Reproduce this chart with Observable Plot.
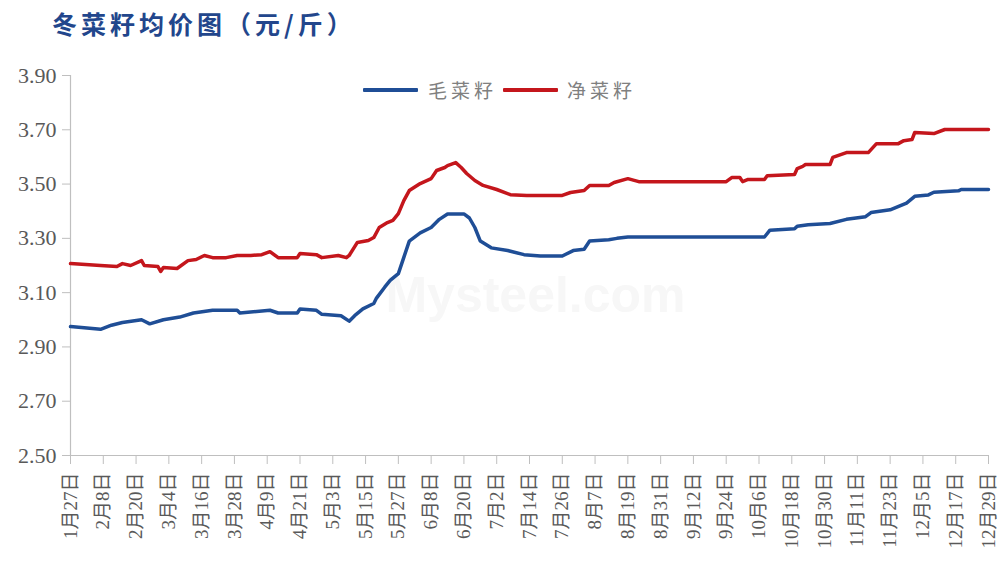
<!DOCTYPE html>
<html>
<head>
<meta charset="utf-8">
<script src="https://cdn.jsdelivr.net/npm/d3@7"></script>
<script src="https://cdn.jsdelivr.net/npm/@observablehq/plot@0.6"></script>
<style>
  html, body { margin: 0; padding: 0; background: #ffffff; }
  #wrap { position: relative; width: 1003px; height: 563px; overflow: hidden; background: #fff; }
  #title { height: 45px; position: relative; }
  #title span { position: absolute; left: 52px; top: 8px; line-height: 30px; font-family: "Noto Sans CJK SC", sans-serif; font-weight: 700; font-size: 25px; letter-spacing: 4px; color: #22468c; white-space: nowrap; }
  .leg-line { position: absolute; height: 4px; width: 55px; top: 88px; border-radius: 1px; }
  .leg-text { position: absolute; top: 78px; line-height: 24px; font-family: "Noto Sans CJK SC", sans-serif; font-size: 19px; letter-spacing: 4px; color: #808080; white-space: nowrap; }
</style>
</head>
<body>
<div id="wrap">
  <div id="title"><span>冬菜籽均价图（元/斤）</span></div>
  <div id="chart"></div>
  <div class="leg-line" style="left:363px;background:#1f4e96"></div>
  <div class="leg-text" style="left:428px">毛菜籽</div>
  <div class="leg-line" style="left:503px;background:#c4161c"></div>
  <div class="leg-text" style="left:567px">净菜籽</div>
</div>
<script>
const seriesNames = ["毛菜籽", "净菜籽"];
const seriesColors = ["#1f4e96", "#c4161c"];

const maoDates = ["2023-01-27","2023-02-07","2023-02-11","2023-02-15","2023-02-22","2023-02-25","2023-03-02","2023-03-08","2023-03-13","2023-03-20","2023-03-29","2023-03-30","2023-04-10","2023-04-13","2023-04-20","2023-04-21","2023-04-27","2023-04-29","2023-05-06","2023-05-09","2023-05-11","2023-05-14","2023-05-18","2023-05-19","2023-05-22","2023-05-24","2023-05-27","2023-05-29","2023-05-31","2023-06-04","2023-06-08","2023-06-11","2023-06-14","2023-06-20","2023-06-22","2023-06-24","2023-06-26","2023-06-30","2023-07-06","2023-07-12","2023-07-18","2023-07-26","2023-07-30","2023-08-03","2023-08-05","2023-08-12","2023-08-15","2023-08-19","2023-10-08","2023-10-10","2023-10-19","2023-10-20","2023-10-24","2023-11-01","2023-11-07","2023-11-14","2023-11-16","2023-11-23","2023-11-29","2023-12-02","2023-12-07","2023-12-09","2023-12-18","2023-12-19","2023-12-29"];
const maoValues = [2.975,2.965,2.98,2.99,3.00,2.985,3.00,3.01,3.025,3.035,3.035,3.025,3.035,3.025,3.025,3.04,3.035,3.02,3.015,2.995,3.015,3.04,3.06,3.08,3.12,3.145,3.17,3.23,3.29,3.32,3.34,3.37,3.39,3.39,3.375,3.34,3.29,3.265,3.255,3.24,3.235,3.235,3.255,3.26,3.29,3.295,3.30,3.305,3.305,3.33,3.335,3.345,3.35,3.355,3.37,3.38,3.395,3.405,3.43,3.455,3.46,3.47,3.475,3.48,3.48];

const jingDates = ["2023-01-27","2023-02-07","2023-02-13","2023-02-15","2023-02-18","2023-02-22","2023-02-23","2023-02-28","2023-03-01","2023-03-02","2023-03-07","2023-03-11","2023-03-14","2023-03-17","2023-03-20","2023-03-25","2023-03-29","2023-04-03","2023-04-07","2023-04-10","2023-04-13","2023-04-20","2023-04-21","2023-04-27","2023-04-29","2023-05-05","2023-05-08","2023-05-09","2023-05-12","2023-05-16","2023-05-18","2023-05-20","2023-05-23","2023-05-25","2023-05-27","2023-05-29","2023-05-31","2023-06-04","2023-06-08","2023-06-10","2023-06-13","2023-06-14","2023-06-17","2023-06-19","2023-06-21","2023-06-24","2023-06-27","2023-07-02","2023-07-07","2023-07-13","2023-07-26","2023-07-29","2023-08-03","2023-08-05","2023-08-12","2023-08-14","2023-08-19","2023-08-23","2023-09-24","2023-09-26","2023-09-29","2023-09-30","2023-10-02","2023-10-08","2023-10-09","2023-10-19","2023-10-20","2023-10-22","2023-10-23","2023-11-01","2023-11-02","2023-11-07","2023-11-15","2023-11-18","2023-11-26","2023-11-28","2023-12-01","2023-12-02","2023-12-09","2023-12-13","2023-12-29"];
const jingValues = [3.207,3.200,3.196,3.207,3.200,3.218,3.200,3.196,3.178,3.193,3.189,3.218,3.222,3.237,3.229,3.229,3.237,3.237,3.240,3.251,3.229,3.229,3.244,3.240,3.229,3.237,3.229,3.237,3.285,3.292,3.303,3.340,3.358,3.366,3.391,3.439,3.476,3.502,3.520,3.550,3.561,3.568,3.579,3.561,3.539,3.513,3.495,3.480,3.461,3.458,3.458,3.469,3.476,3.495,3.495,3.506,3.520,3.509,3.509,3.524,3.524,3.509,3.517,3.517,3.531,3.535,3.557,3.565,3.572,3.572,3.598,3.616,3.616,3.649,3.649,3.660,3.664,3.690,3.686,3.701,3.701];

const xTicks = ["2023-01-27","2023-02-08","2023-02-20","2023-03-04","2023-03-16","2023-03-28","2023-04-09","2023-04-21","2023-05-03","2023-05-15","2023-05-27","2023-06-08","2023-06-20","2023-07-02","2023-07-14","2023-07-26","2023-08-07","2023-08-19","2023-08-31","2023-09-12","2023-09-24","2023-10-06","2023-10-18","2023-10-30","2023-11-11","2023-11-23","2023-12-05","2023-12-17","2023-12-29"];
const yTicks = [2.50, 2.70, 2.90, 3.10, 3.30, 3.50, 3.70, 3.90];

const mao = maoDates.map((d, i) => ({date: new Date(d), value: maoValues[i], series: seriesNames[0]}));
const jing = jingDates.map((d, i) => ({date: new Date(d), value: jingValues[i], series: seriesNames[1]}));
const xTickDates = xTicks.map(d => new Date(d));
const fmtDate = d => `${d.getUTCMonth() + 1}月${d.getUTCDate()}日`;
const axisColor = "#bfbfbf";
const textColor = "#595959";
const x0 = xTickDates[0], x1 = xTickDates[xTickDates.length - 1];

const chart = Plot.plot({
  width: 1003,
  height: 518,
  marginLeft: 70,
  marginRight: 15,
  marginTop: 30,
  marginBottom: 108,
  style: {background: "#ffffff", fontFamily: "'Liberation Serif', 'Noto Sans CJK SC', serif"},
  x: {type: "utc", domain: [x0, x1]},
  y: {domain: [2.5, 3.9]},
  marks: [
    Plot.text(["Mysteel.com"], {frameAnchor: "middle", dx: 6, dy: 30, fontSize: 50, fontWeight: "bold", fontFamily: "'Liberation Sans', sans-serif", fill: "#f7f7f7"}),
    Plot.axisY({ticks: yTicks, tickFormat: d3.format(".2f"), tickSize: 8, tickPadding: 6, fontSize: 22, stroke: axisColor, fill: textColor, label: null}),
    Plot.axisX({ticks: xTickDates, tickFormat: fmtDate, tickRotate: -90, tickSize: 9, tickPadding: 8, fontSize: 19, stroke: axisColor, fill: textColor, label: null}),
    Plot.ruleX([x0], {stroke: axisColor, strokeWidth: 1.2}),
    Plot.ruleY([2.5], {stroke: axisColor, strokeWidth: 1.2}),
    Plot.lineY(mao, {x: "date", y: "value", stroke: seriesColors[0], strokeWidth: 3.5}),
    Plot.lineY(jing, {x: "date", y: "value", stroke: seriesColors[1], strokeWidth: 3.5})
  ]
});
document.getElementById("chart").appendChild(chart);
</script>
</body>
</html>
